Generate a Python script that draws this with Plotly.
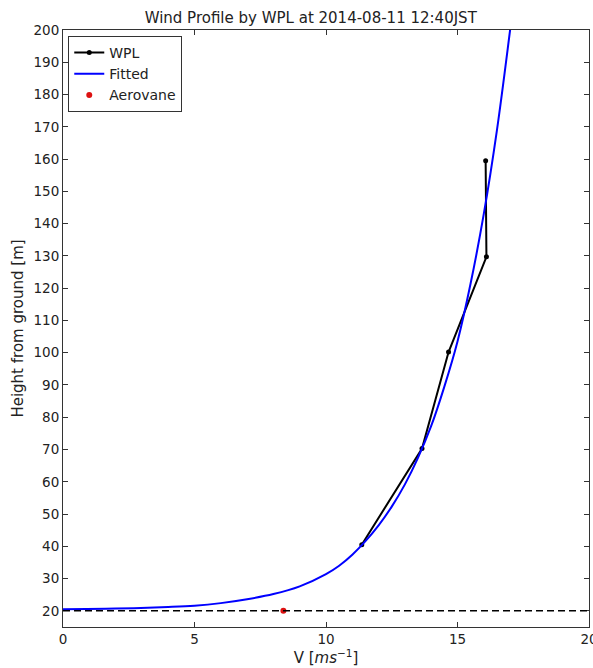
import plotly.graph_objects as go

# WPL wind profiler observations
WPL_SPEED = [11.36, 13.65, 14.66, 16.1, 16.07]
WPL_HEIGHT = [40.5, 70.3, 100.2, 129.7, 159.5]

# Fitted profile
FIT_SPEED = [0.0, 2.0, 4.0, 5.0, 6.0, 7.0, 8.0, 9.0, 10.0, 10.5, 11.0, 11.5,
             12.0, 12.5, 13.0, 13.5, 14.0, 14.5, 15.0, 15.5, 16.0, 16.5, 17.0, 17.2]
FIT_HEIGHT = [20.5, 20.7, 21.2, 21.6, 22.4, 23.6, 25.2, 27.6, 31.4, 34.0, 37.4, 41.6,
              46.5, 52.3, 59.2, 67.5, 77.3, 89.5, 103.5, 121.5, 143.0, 169.0, 200.0, 213.0]

# Aerovane surface observation
AERO_SPEED = [8.38]
AERO_HEIGHT = [20.0]

Y_TICKS = list(range(20, 201, 10))
X_TICKS = [0, 5, 10, 15, 20]

TEXT = "#222222"
FONT = "DejaVu Sans"

fig = go.Figure()

fig.add_trace(go.Scatter(
    x=WPL_SPEED, y=WPL_HEIGHT, name="WPL", mode="lines+markers",
    line=dict(color="black", width=2),
    marker=dict(color="black", size=5),
))
fig.add_trace(go.Scatter(
    x=FIT_SPEED, y=FIT_HEIGHT, name="Fitted", mode="lines",
    line=dict(color="blue", width=2, shape="spline", smoothing=1.0),
))
fig.add_trace(go.Scatter(
    x=AERO_SPEED, y=AERO_HEIGHT, name="Aerovane", mode="markers",
    marker=dict(color="#dd1111", size=6),
))

# Aerovane height reference line
fig.add_hline(y=AERO_HEIGHT[0], line=dict(color="black", width=1.5, dash="7px,4px"))

axis_common = dict(
    showgrid=False, zeroline=False, showline=True, linecolor="#333333",
    linewidth=1, mirror="allticks", ticks="inside", ticklen=5, automargin=False,
    tickcolor="#333333", tickfont=dict(size=13.5, color=TEXT, family=FONT),
)

fig.update_xaxes(range=[0, 20], tickvals=X_TICKS, ticklabeloverflow="allow",
                 title=dict(text="V [<i>ms</i><sup>−1</sup>]", standoff=4,
                            font=dict(size=15, color=TEXT, family=FONT)),
                 **axis_common)
fig.update_yaxes(range=[15, 200], tickvals=Y_TICKS,
                 title=dict(text="Height from ground [m]", standoff=6,
                            font=dict(size=15, color=TEXT, family=FONT)),
                 **axis_common)

fig.update_layout(
    width=593, height=668,
    margin=dict(l=63, r=4, t=30, b=41),
    paper_bgcolor="white", plot_bgcolor="white",
    font=dict(family=FONT, color=TEXT),
    title=dict(text="Wind Profile by WPL at 2014-08-11 12:40JST",
               x=0.524, xanchor="center", y=0.973, yanchor="middle",
               font=dict(size=15, color=TEXT, family=FONT)),
    legend=dict(x=0.01, y=0.99, xanchor="left", yanchor="top",
                bordercolor="#333333", borderwidth=1, bgcolor="white",
                font=dict(size=14, color=TEXT, family=FONT),
                tracegroupgap=0, itemwidth=30),
    showlegend=True,
)

fig.write_html("out.html")
